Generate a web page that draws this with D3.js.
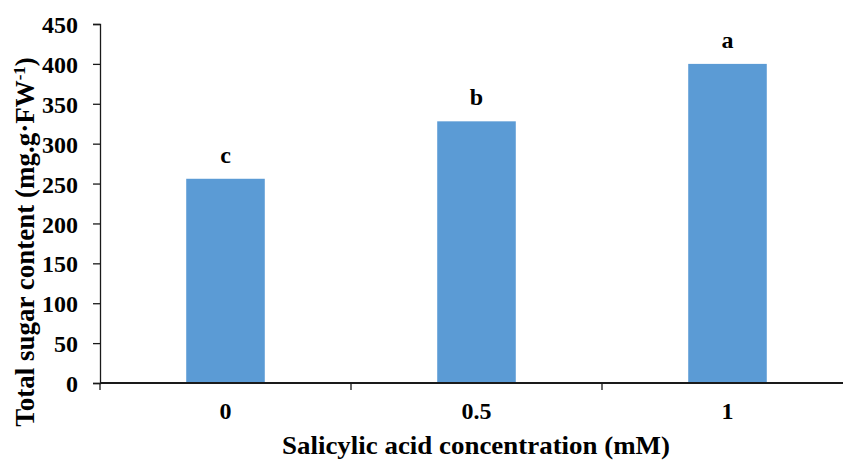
<!DOCTYPE html>
<html>
<head>
<meta charset="utf-8">
<script src="https://cdn.jsdelivr.net/npm/d3@7"></script>
<style>
  body { margin: 0; background: #fff; }
  svg { display: block; }
  text { font-family: "Liberation Serif", "Times New Roman", serif; font-weight: bold; fill: #000; }
</style>
</head>
<body>
<div id="chart"></div>
<script>
// data
const categories = ["0", "0.5", "1"];
const sugarValues = [256, 328, 400];
const groupLetters = ["c", "b", "a"];
const yTicks = [0, 50, 100, 150, 200, 250, 300, 350, 400, 450];

const width = 843, height = 461;
const margin = {top: 24, right: -10, bottom: 78, left: 100};
const barColor = "#5B9BD5";
const axisColor = "#1a1a1a";

const svg = d3.select("#chart").append("svg")
  .attr("width", width)
  .attr("height", height);

const x = d3.scaleBand()
  .domain(categories)
  .range([margin.left, width - margin.right])
  .padding(0);

const y = d3.scaleLinear()
  .domain([0, 450])
  .range([height - margin.bottom, margin.top]);

const barW = x.bandwidth() * 0.313;

// bars
svg.selectAll("rect.bar")
  .data(sugarValues)
  .join("rect")
  .attr("class", "bar")
  .attr("x", (d, i) => x(categories[i]) + (x.bandwidth() - barW) / 2)
  .attr("y", d => y(d))
  .attr("width", barW)
  .attr("height", d => y(0) - y(d))
  .attr("fill", barColor);

// significance letters
svg.selectAll("text.letter")
  .data(sugarValues)
  .join("text")
  .attr("class", "letter")
  .attr("x", (d, i) => x(categories[i]) + x.bandwidth() / 2)
  .attr("y", d => y(d) - 16)
  .attr("text-anchor", "middle")
  .style("font-size", "24px")
  .text((d, i) => groupLetters[i]);

// y axis
const yAxis = svg.append("g")
  .attr("transform", `translate(${margin.left},0)`)
  .call(d3.axisLeft(y).tickValues(yTicks).tickSize(7).tickPadding(15));
yAxis.select(".domain").attr("stroke", axisColor).attr("stroke-width", 1.3);
yAxis.selectAll(".tick line").attr("stroke", axisColor).attr("stroke-width", 1.3);
yAxis.selectAll(".tick text")
  .attr("dy", "0.36em")
  .style("font-family", "Liberation Serif, serif")
  .style("font-weight", "bold")
  .style("font-size", "24px")
  .attr("fill", "#000");

// x axis: ticks at category boundaries
const bounds = categories.map(c => x(c)).concat([x(categories[categories.length - 1]) + x.bandwidth()]);
const xg = svg.append("g");
xg.append("line")
  .attr("x1", margin.left).attr("x2", width)
  .attr("y1", y(0)).attr("y2", y(0))
  .attr("stroke", axisColor).attr("stroke-width", 2.2);
xg.selectAll("line.tick")
  .data(bounds)
  .join("line")
  .attr("class", "tick")
  .attr("x1", d => d).attr("x2", d => d)
  .attr("y1", y(0)).attr("y2", y(0) + 7)
  .attr("stroke", axisColor).attr("stroke-width", 1.3);
xg.selectAll("text.xlab")
  .data(categories)
  .join("text")
  .attr("class", "xlab")
  .attr("x", d => x(d) + x.bandwidth() / 2)
  .attr("y", y(0) + 36)
  .attr("text-anchor", "middle")
  .style("font-size", "24px")
  .text(d => d);

// axis titles
svg.append("text")
  .attr("x", 476)
  .attr("y", 454)
  .attr("text-anchor", "middle")
  .attr("textLength", 388)
  .attr("lengthAdjust", "spacingAndGlyphs")
  .style("font-size", "26px")
  .text("Salicylic acid concentration (mM)");

const yTitle = svg.append("text")
  .attr("transform", `translate(34,242) rotate(-90)`)
  .attr("text-anchor", "middle")
  .style("font-size", "27px");
yTitle.append("tspan").text("Total sugar content (mg.g\u00B7FW");
yTitle.append("tspan").attr("dy", -9).style("font-size", "17px").text("-1");
yTitle.append("tspan").attr("dy", 9).text(")");
</script>
</body>
</html>
